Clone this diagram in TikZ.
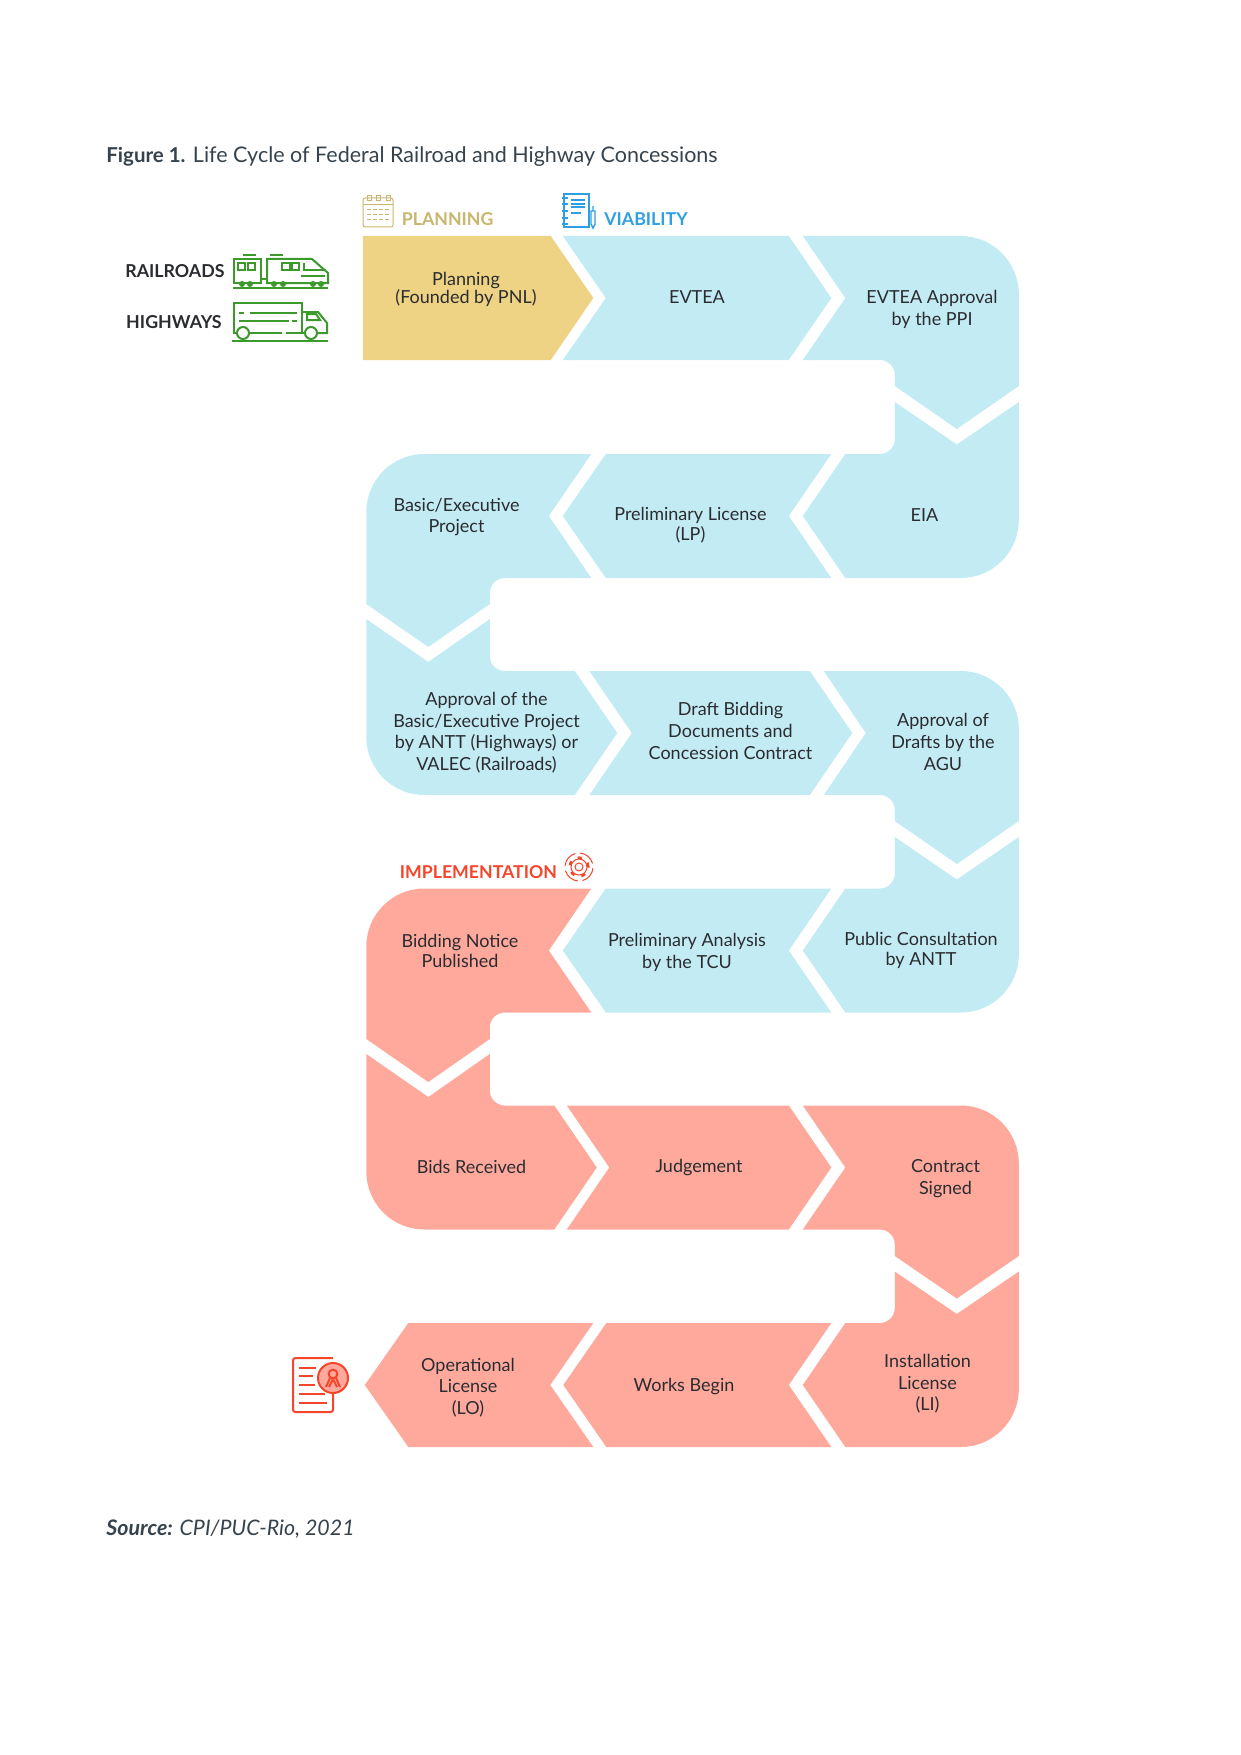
\documentclass[tikz,border=0pt]{standalone}
\usepackage{fontspec}
\setmainfont{Lato}
\usetikzlibrary{positioning}
\usetikzlibrary{arrows}
\definecolor{c_planning}{HTML}{EFD385}
\definecolor{c_viability}{HTML}{C3EBF3}
\definecolor{c_implementation}{HTML}{FFA99D}
\definecolor{c_text}{HTML}{2A2C30}
\definecolor{c_title}{HTML}{36434D}
\definecolor{c_tan}{HTML}{C9B56E}
\definecolor{c_blue}{HTML}{2E9FE3}
\definecolor{c_red}{HTML}{F5452A}
\definecolor{c_green}{HTML}{3C9A2C}
\tikzset{
        % Chevron shapes
        shape_planning/.style={fill=c_planning},
        shape_viability/.style={fill=c_viability},
        shape_implementation/.style={fill=c_implementation},
        % Text inside a step
        step_text/.style={align=center,inner sep=0pt,text=c_text,font=\fontsize{9}{10.8}\selectfont},
        % Phase headings
        phase_text/.style={anchor=west,inner sep=0pt,font=\fontsize{8.85}{11}\selectfont\bfseries},
        mode_text/.style={anchor=east,inner sep=0pt,text=c_text,font=\fontsize{8.9}{11}\selectfont\bfseries},
        caption_text/.style={anchor=west,inner sep=0pt,text=c_title,font=\fontsize{10.75}{13}\selectfont},
        % Icons
        icon_green/.style={draw=c_green,line width=1pt},
        icon_tan/.style={draw=c_tan,line width=0.5pt},
        icon_blue/.style={draw=c_blue,line width=0.7pt},
        icon_red/.style={draw=c_red,line width=1pt},
        icon_gear/.style={draw=c_red,line width=0.5pt}
}
\begin{document}
\begin{tikzpicture}[x=0.5pt,y=-0.5pt]
    \useasboundingbox (0,0) rectangle (1241,1755);
    \begin{scope}[xshift=0.4pt]
    % Row 1
    \fill[shape_planning] (362,236) -- (550,236) -- (592.5,298) -- (550,360) -- (362,360) -- cycle;
    \fill[shape_viability] (562,236) -- (788,236) -- (830.5,298) -- (788,360) -- (562,360) -- (605,298) -- cycle;
    \fill[shape_viability] (802,236) [rounded corners=29pt] -- (1018,236) [sharp corners] -- (1018,386) -- (956,429) -- (894,386) [rounded corners=7.5pt] -- (894,360) [sharp corners] -- (802,360) -- (844.5,298) -- cycle;
    % Row 2
    \fill[shape_viability] (1018,402) -- (956,444.5) -- (894,402) [rounded corners=7.5pt] -- (894,454) [sharp corners] -- (844.5,454) -- (802,516) -- (844.5,578) [rounded corners=29pt] -- (1018,578) [sharp corners] -- cycle;
    \fill[shape_viability] (830.5,454) -- (605,454) -- (562,516) -- (605,578) -- (830.5,578) -- (788,516) -- cycle;
    \fill[shape_viability] (590.5,454) [rounded corners=29pt] -- (365.5,454) [sharp corners] -- (365.5,604) -- (427.5,647) -- (489,604) [rounded corners=7.5pt] -- (489,578) [sharp corners] -- (590.5,578) -- (548,516) -- cycle;
    % Row 3
    \fill[shape_viability] (365.5,619) -- (427.5,662) -- (489,619) [rounded corners=7.5pt] -- (489,671) [sharp corners] -- (574,671) -- (616.5,733) -- (574,795) [rounded corners=29pt] -- (365.5,795) [sharp corners] -- cycle;
    \fill[shape_viability] (588.5,671) -- (809,671) -- (851.5,733) -- (809,795) -- (588.5,795) -- (631,733) -- cycle;
    \fill[shape_viability] (823,671) [rounded corners=29pt] -- (1018,671) [sharp corners] -- (1018,821) -- (956,864) -- (894,821) [rounded corners=7.5pt] -- (894,795) [sharp corners] -- (823,795) -- (865,733) -- cycle;
    % Row 4
    \fill[shape_viability] (1018,837) -- (956,879.5) -- (894,837) [rounded corners=7.5pt] -- (894,888.5) [sharp corners] -- (844.5,888.5) -- (802,950.5) -- (844.5,1012.5) [rounded corners=29pt] -- (1018,1012.5) [sharp corners] -- cycle;
    \fill[shape_viability] (830.5,888.5) -- (605,888.5) -- (562,950.5) -- (605,1012.5) -- (830.5,1012.5) -- (788,950.5) -- cycle;
    \fill[shape_implementation] (590.5,888.5) [rounded corners=29pt] -- (365.5,888.5) [sharp corners] -- (365.5,1039) -- (427.5,1082) -- (489,1039) [rounded corners=7.5pt] -- (489,1012.5) [sharp corners] -- (590.5,1012.5) -- (548,950.5) -- cycle;
    % Row 5
    \fill[shape_implementation] (365.5,1054) -- (427.5,1097) -- (489,1054) [rounded corners=7.5pt] -- (489,1105.5) [sharp corners] -- (553.5,1105.5) -- (596,1167.5) -- (553.5,1229.5) [rounded corners=29pt] -- (365.5,1229.5) [sharp corners] -- cycle;
    \fill[shape_implementation] (566,1105.5) -- (788,1105.5) -- (830.5,1167.5) -- (788,1229.5) -- (566,1229.5) -- (608.5,1167.5) -- cycle;
    \fill[shape_implementation] (802,1105.5) [rounded corners=29pt] -- (1018,1105.5) [sharp corners] -- (1018,1256) -- (956,1298.5) -- (894,1256) [rounded corners=7.5pt] -- (894,1229.5) [sharp corners] -- (802,1229.5) -- (844.5,1167.5) -- cycle;
    % Row 6
    \fill[shape_implementation] (1018,1271.5) -- (956,1314) -- (894,1271.5) [rounded corners=7.5pt] -- (894,1323) [sharp corners] -- (844.5,1323) -- (802,1385) -- (844.5,1447) [rounded corners=29pt] -- (1018,1447) [sharp corners] -- cycle;
    \fill[shape_implementation] (830.5,1323) -- (605.5,1323) -- (562.5,1385) -- (605.5,1447) -- (830.5,1447) -- (788,1385) -- cycle;
    \fill[shape_implementation] (592.5,1323) -- (407.5,1323) -- (364,1385) -- (407.5,1447) -- (592.5,1447) -- (549.5,1385) -- cycle;
    \end{scope}

    % Step texts
    \node[step_text] (planning) at (466,289) {Planning\\[-1.8pt](Founded by PNL)};
    \node[step_text] (evtea) at (697,297) {EVTEA};
    \node[step_text] (evtea_approval) at (932,309.5) {EVTEA Approval\\by the PPI};
    \node[step_text] (eia) at (924.5,515) {EIA};
    \node[step_text] (license_lp) at (690.5,525.5) {Preliminary License\\[-0.8pt](LP)};
    \node[step_text] (basic_project) at (456.5,517) {Basic/Executive\\Project};
    \node[step_text] (approval_project) at (486.5,732.5) {Approval of the\\Basic/Executive Project\\by ANTT (Highways) or\\VALEC (Railroads)};
    \node[step_text] (draft_bidding) at (730.5,731) {Draft Bidding\\Documents and\\Concession Contract};
    \node[step_text] (approval_drafts) at (943,742) {Approval of\\Drafts by the\\AGU};
    \node[step_text] (consultation) at (921,950.5) {Public Consultation\\[-0.5pt]by ANTT};
    \node[step_text] (analysis_tcu) at (687,952.5) {Preliminary Analysis\\by the TCU};
    \node[step_text] (bidding_notice) at (460,951) {Bidding Notice\\[-0.5pt]Published};
    \node[step_text] (bids_received) at (471.5,1167) {Bids Received};
    \node[step_text] (judgement) at (699,1168) {Judgement};
    \node[step_text] (contract) at (945.5,1178.5) {Contract\\Signed};
    \node[step_text] (license_li) at (927.5,1384) {Installation\\License\\(LI)};
    \node[step_text] (works_begin) at (684,1386.5) {Works Begin};
    \node[step_text] (license_lo) at (468,1387.5) {Operational\\License\\(LO)};

    % Title, source and headings
    \node[caption_text] (title) at (106,157) {{\fontsize{10.25}{13}\selectfont\bfseries Figure 1.} Life Cycle of Federal Railroad and Highway Concessions};
    \node[caption_text,font=\fontsize{10.7}{13}\selectfont\itshape] (source) at (106,1529) {\textbf{Source:} CPI/PUC-Rio, 2021};
    \node[phase_text,text=c_tan] (phase_planning) at (401.5,219) {PLANNING};
    \node[phase_text,text=c_blue] (phase_viability) at (604,219) {VIABILITY};
    \node[phase_text,text=c_red] (phase_implementation) at (399.5,872) {IMPLEMENTATION};
    \node[mode_text] (railroads) at (225,271) {RAILROADS};
    \node[mode_text] (highways) at (222,322) {HIGHWAYS};

    % Train icon
    \draw[icon_green] (233,288) -- (328,288);
    \draw[icon_green] (234,259) rectangle (261,283);
    \draw[icon_green] (243,255) -- (256,255) (270,255) -- (283,255) (261,279) -- (267,279);
    \draw[icon_green] (267,283) -- (267,259) -- (312,259) -- (328,273) -- (328,283) -- cycle;
    \draw[icon_green] (238,263) rectangle (245,270) (248,263) rectangle (255,270);
    \draw[icon_green] (282,263) rectangle (290,270) (292,263) rectangle (299,270);
    \draw[icon_green] (304,263) -- (304,270) -- (326,270);
    \draw[icon_green] (301,276) -- (325,276);
    \fill[c_green] (242,284) circle[radius=1.5pt] (250,284) circle[radius=1.5pt] (274,284) circle[radius=1.5pt] (283,284) circle[radius=1.5pt] (313,284) circle[radius=1.5pt] (321,284) circle[radius=1.5pt];
    % Truck icon
    \draw[icon_green] (232,341) -- (328,341);
    \draw[icon_green] (237,333) -- (234,333) -- (234,303) -- (302,303) -- (302,333) (249,333) -- (282,333) (286,333) -- (305,333);
    \draw[icon_green] (302,312) -- (318,312) -- (327,323) -- (327,333) -- (317,333);
    \draw[icon_green] (307,314) -- (316,314) -- (320,320) -- (307,320) -- cycle;
    \draw[icon_green] (243,333) circle[radius=3pt] (311,333) circle[radius=3pt];
    \draw[icon_green] (239,313) -- (244,313) (250,313) -- (297,313) (239,321) -- (289,321) (292,321) -- (297,321);
    % Calendar icon
    \draw[icon_tan,rounded corners=1pt] (363,198) rectangle (393,227);
    \draw[icon_tan] (363,205) -- (393,205);
    \draw[icon_tan] (367,196) rectangle (371,201) (376,196) rectangle (380,201) (386,196) rectangle (390,201);
    \draw[icon_tan,dash pattern=on 2pt off 1pt] (367,210) -- (390,210) (367,215) -- (390,215) (367,220) -- (390,220);
    % Notebook icon
    \draw[icon_blue] (564,194) rectangle (589,227);
    \draw[icon_blue] (562,198) -- (568,198) (562,204) -- (568,204) (562,211) -- (568,211) (562,218) -- (568,218) (562,224) -- (568,224);
    \draw[icon_blue] (571,200) -- (585,200) (571,204) -- (585,204) (571,207) -- (585,207) (571,213) -- (581,213);
    \draw[icon_blue] (591,211) -- (591,224) -- (593,228) -- (595,224) -- (595,211) -- cycle (593,206) -- (593,211);
    % Gear icon
    \draw[icon_gear] (579,867) circle[radius=4pt];
    \draw[icon_gear,line width=1.2pt,dash pattern=on 2.2pt off 3.6pt] (579,867) circle[radius=4.7pt];
    \draw[icon_gear] (579,867) circle[radius=2pt];
    \draw[icon_gear] (592.5,863.4) arc[start angle=15,end angle=85,radius=7pt];
    \draw[icon_gear] (575.4,853.5) arc[start angle=105,end angle=175,radius=7pt];
    \draw[icon_gear] (565.5,870.6) arc[start angle=195,end angle=265,radius=7pt];
    \draw[icon_gear] (582.6,880.5) arc[start angle=285,end angle=355,radius=7pt];
    % Certificate icon
    \draw[icon_red,rounded corners=1.2pt] (333,1358) -- (293,1358) -- (293,1412) -- (333,1412) -- (333,1392);
    \draw[icon_red] (299,1368) -- (316,1368) (299,1376) -- (313,1376) (299,1385) -- (315,1385) (299,1394) -- (325,1394) (299,1403) -- (327,1403);
    \draw[icon_red,fill=c_implementation] (333,1378) circle[radius=7.5pt];
    \draw[icon_red] (333,1374) circle[radius=2.2pt];
    \draw[icon_red] (330,1378) -- (326,1387) (336,1378) -- (340,1387) (333,1379) -- (329,1387) (333,1379) -- (337,1387);
\end{tikzpicture}
\end{document}
